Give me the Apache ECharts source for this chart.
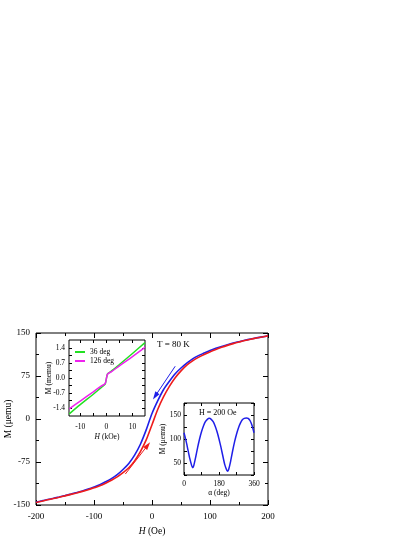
<!DOCTYPE html>
<html lang="en">
<head>
<meta charset="UTF-8">
<title>M vs H loop</title>
<script src="https://cdn.jsdelivr.net/npm/echarts@6.0.0/dist/echarts.min.js"></script>
<style>
    html, body { margin: 0; padding: 0; background: #fff; }
    #chart { width: 415px; height: 537px; }
</style>
</head>
<body>
<div id="chart"></div>
<script>
// main loop: H (Oe) vs M (μemu)
const fieldOe = [-200, -190, -180, -170, -160, -150, -140, -130, -120, -110, -100, -90, -80, -70, -60, -50,
    -40, -30, -20, -10, 0, 10, 20, 30, 40, 50, 60, 70, 80, 90, 100, 110, 120, 130, 140, 150, 160, 170, 180, 190, 200];
const mDown = [-145, -142.8, -140.5, -138.3, -136, -133.6, -131, -128.3, -125.5, -122.2, -118.5, -114.5, -109.5,
    -104, -97, -88, -77.5, -63, -44, -19, 9.5, 32, 51.5, 66, 79, 89, 97.5, 105, 110.5, 115, 119.5, 123.3, 126.6,
    129.6, 132.4, 134.9, 137.3, 139.5, 141.5, 143.3, 145];
const mUp = [-145.5, -143.3, -141, -138.8, -136.5, -134.1, -131.5, -128.9, -126.2, -123.3, -120, -116.5, -112,
    -106.8, -101, -93.5, -85, -73, -57, -36.5, -10, 17, 39, 57, 72, 84, 94, 101.5, 107.5, 112.5, 117, 121.3, 125,
    128.4, 131.5, 134.2, 136.8, 139.1, 141.2, 143.1, 145];
const arrowDown = [[40, 92], [5.5, 40]];
const arrowUp = [[-46, -96], [-7.5, -46]];

// inset 1: H (kOe) vs M (memu)
const fieldKOe = [-14.2, -10, -5, -2, -0.8, -0.4, 0, 0.4, 0.8, 2, 5, 10, 14.8];
const m36 = [-1.68, -1.25, -0.76, -0.45, -0.33, -0.27, -0.04, 0.18, 0.23, 0.33, 0.63, 1.15, 1.66];
const m126 = [-1.45, -1.08, -0.65, -0.38, -0.3, -0.25, -0.04, 0.17, 0.22, 0.3, 0.57, 1.0, 1.43];

// inset 2: alpha (deg) vs M (μemu) at H = 200 Oe
const alphaDeg = [0, 10, 20, 30, 40, 45, 50, 60, 70, 80, 90, 100, 110, 120, 130, 140, 150, 160, 170, 180,
    190, 200, 210, 220, 225, 230, 240, 250, 260, 270, 280, 290, 300, 310, 320, 330, 340, 350, 360];
const mAlpha = [113, 97, 78, 59, 44, 40, 44, 62, 82, 100, 115, 127, 136, 141, 143, 141, 136, 127, 115, 100,
    83, 64, 46, 35, 33, 37, 54, 75, 94, 110, 123, 133, 140, 143, 144, 143, 138, 128, 113];

const FONT = 'Liberation Serif';
const tickStyle = { color: '#000', width: 1 };
const noLine = { show: false, onZero: false };

function pairs(xs, ys) {
    return xs.map(function (x, i) { return [x, ys[i]]; });
}

// copy of an axis for the opposite side, ticks only
function mirror(axis, position) {
    return Object.assign({}, axis, { position: position, axisLabel: { show: false }, name: '' });
}

function nameStyle(size) {
    return {
        color: '#000', fontFamily: FONT, fontSize: size,
        rich: { i: { fontStyle: 'italic', fontFamily: FONT, fontSize: size, color: '#000' } }
    };
}

const mainX = {
    type: 'value', gridIndex: 0, position: 'bottom', min: -200, max: 200, interval: 100,
    axisLine: noLine, splitLine: { show: false },
    axisTick: { inside: true, length: 5, lineStyle: tickStyle },
    minorTick: { show: true, splitNumber: 2, length: 3, lineStyle: tickStyle },
    axisLabel: { color: '#000', fontFamily: FONT, fontSize: 9, margin: 7 },
    name: '{i|H} (Oe)', nameLocation: 'middle', nameGap: 21, nameMoveOverlap: false,
    nameTextStyle: nameStyle(9.5)
};
const mainY = {
    type: 'value', gridIndex: 0, position: 'left', min: -150, max: 150, interval: 75,
    axisLine: noLine, splitLine: { show: false },
    axisTick: { inside: true, length: 5, lineStyle: tickStyle },
    minorTick: { show: true, splitNumber: 2, length: 3, lineStyle: tickStyle },
    axisLabel: { color: '#000', fontFamily: FONT, fontSize: 9, margin: 6 },
    name: 'M (μemu)', nameLocation: 'middle', nameGap: 23, nameRotate: 90, nameMoveOverlap: false,
    nameTextStyle: nameStyle(9.5)
};

const in1X = {
    type: 'value', gridIndex: 1, position: 'bottom', min: -14.3, max: 14.8,
    axisLine: noLine, splitLine: { show: false },
    axisTick: { inside: true, length: 3, lineStyle: tickStyle, customValues: [-10, -5, 0, 5, 10] },
    axisLabel: { color: '#000', fontFamily: FONT, fontSize: 7.5, margin: 7, customValues: [-10, 0, 10] },
    name: '{i|H} (kOe)', nameLocation: 'middle', nameGap: 17, nameMoveOverlap: false,
    nameTextStyle: nameStyle(7.5)
};
const in1Y = {
    type: 'value', gridIndex: 1, position: 'left', min: -1.78, max: 1.78,
    axisLine: noLine, splitLine: { show: false },
    axisTick: { inside: true, length: 3, lineStyle: tickStyle,
        customValues: [-1.4, -1.05, -0.7, -0.35, 0, 0.35, 0.7, 1.05, 1.4] },
    axisLabel: { color: '#000', fontFamily: FONT, fontSize: 7.5, margin: 4,
        customValues: [-1.4, -0.7, 0, 0.7, 1.4],
        formatter: function (v) { return v.toFixed(1); } },
    name: 'M (memu)', nameLocation: 'middle', nameGap: 16, nameRotate: 90, nameMoveOverlap: false,
    nameTextStyle: nameStyle(7.5)
};

const in2X = {
    type: 'value', gridIndex: 2, position: 'bottom', min: 0, max: 360, interval: 90,
    axisLine: noLine, splitLine: { show: false },
    axisTick: { inside: true, length: 3, lineStyle: tickStyle },
    axisLabel: { color: '#000', fontFamily: FONT, fontSize: 7.5, margin: 5,
        formatter: function (v) { return v % 180 === 0 ? String(v) : ''; } },
    name: 'α (deg)', nameLocation: 'middle', nameGap: 14, nameMoveOverlap: false,
    nameTextStyle: nameStyle(7.5)
};
const in2Y = {
    type: 'value', gridIndex: 2, position: 'left', min: 25, max: 175, interval: 25,
    axisLine: noLine, splitLine: { show: false },
    axisTick: { inside: true, length: 3, lineStyle: tickStyle },
    axisLabel: { color: '#000', fontFamily: FONT, fontSize: 7.5, margin: 3,
        formatter: function (v) { return v % 50 === 0 ? String(v) : ''; } },
    name: 'M (μemu)', nameLocation: 'middle', nameGap: 17, nameRotate: 90, nameMoveOverlap: false,
    nameTextStyle: nameStyle(7.5)
};

function arrowLine(color, ends) {
    return {
        silent: true,
        symbol: ['none', 'triangle'],
        symbolSize: [5, 8],
        lineStyle: { color: color, width: 1, type: 'solid' },
        itemStyle: { color: color },
        label: { show: false },
        emphasis: { disabled: true },
        data: [[{ coord: ends[0] }, { coord: ends[1] }]]
    };
}

const chart = echarts.init(document.getElementById('chart'));
chart.setOption({
    animation: false,
    backgroundColor: '#fff',
    grid: [
        { left: 36, top: 333, width: 232, height: 172, show: true, borderColor: '#000', borderWidth: 1,
            containLabel: false, outerBoundsMode: 'none' },
        { left: 69, top: 340, width: 76, height: 76, show: true, borderColor: '#000', borderWidth: 1,
            backgroundColor: '#fff', containLabel: false, outerBoundsMode: 'none' },
        { left: 184, top: 403, width: 70, height: 72, show: true, borderColor: '#000', borderWidth: 1,
            backgroundColor: '#fff', containLabel: false, outerBoundsMode: 'none' }
    ],
    xAxis: [mainX, mirror(mainX, 'top'), in1X, mirror(in1X, 'top'), in2X, mirror(in2X, 'top')],
    yAxis: [mainY, mirror(mainY, 'right'), in1Y, mirror(in1Y, 'right'), in2Y, mirror(in2Y, 'right')],
    legend: {
        data: ['36 deg', '126 deg'],
        left: 70, top: 343, orient: 'vertical',
        icon: 'rect', itemWidth: 10, itemHeight: 2, itemGap: 1,
        selectedMode: false,
        textStyle: { color: '#000', fontFamily: FONT, fontSize: 7.5 }
    },
    graphic: [
        { type: 'text', left: 157, top: 340, style: { text: 'T = 80 K', font: '9px "Liberation Serif"', fill: '#000' } },
        { type: 'text', left: 199, top: 409, style: { text: 'H = 200 Oe', font: '8px "Liberation Serif"', fill: '#000' } }
    ],
    series: [
        {
            name: 'down', type: 'line', xAxisIndex: 0, yAxisIndex: 0,
            data: pairs(fieldOe, mDown), showSymbol: false, smooth: 0.3,
            color: '#1f1fe8', lineStyle: { width: 1.6 },
            markLine: arrowLine('#1f1fe8', arrowDown)
        },
        {
            name: 'up', type: 'line', xAxisIndex: 0, yAxisIndex: 0,
            data: pairs(fieldOe, mUp), showSymbol: false, smooth: 0.3,
            color: '#ee1c1c', lineStyle: { width: 1.6 },
            markLine: arrowLine('#ee1c1c', arrowUp)
        },
        {
            name: '36 deg', type: 'line', xAxisIndex: 2, yAxisIndex: 2,
            data: pairs(fieldKOe, m36), showSymbol: false, smooth: 0.3,
            color: '#22e022', lineStyle: { width: 1.5 }
        },
        {
            name: '126 deg', type: 'line', xAxisIndex: 2, yAxisIndex: 2,
            data: pairs(fieldKOe, m126), showSymbol: false, smooth: 0.3,
            color: '#ee22ee', lineStyle: { width: 1.5 }
        },
        {
            name: 'alpha', type: 'line', xAxisIndex: 4, yAxisIndex: 4,
            data: pairs(alphaDeg, mAlpha), showSymbol: false, smooth: 0.2,
            color: '#1f1fe8', lineStyle: { width: 1.5 }
        }
    ]
});
</script>
</body>
</html>
